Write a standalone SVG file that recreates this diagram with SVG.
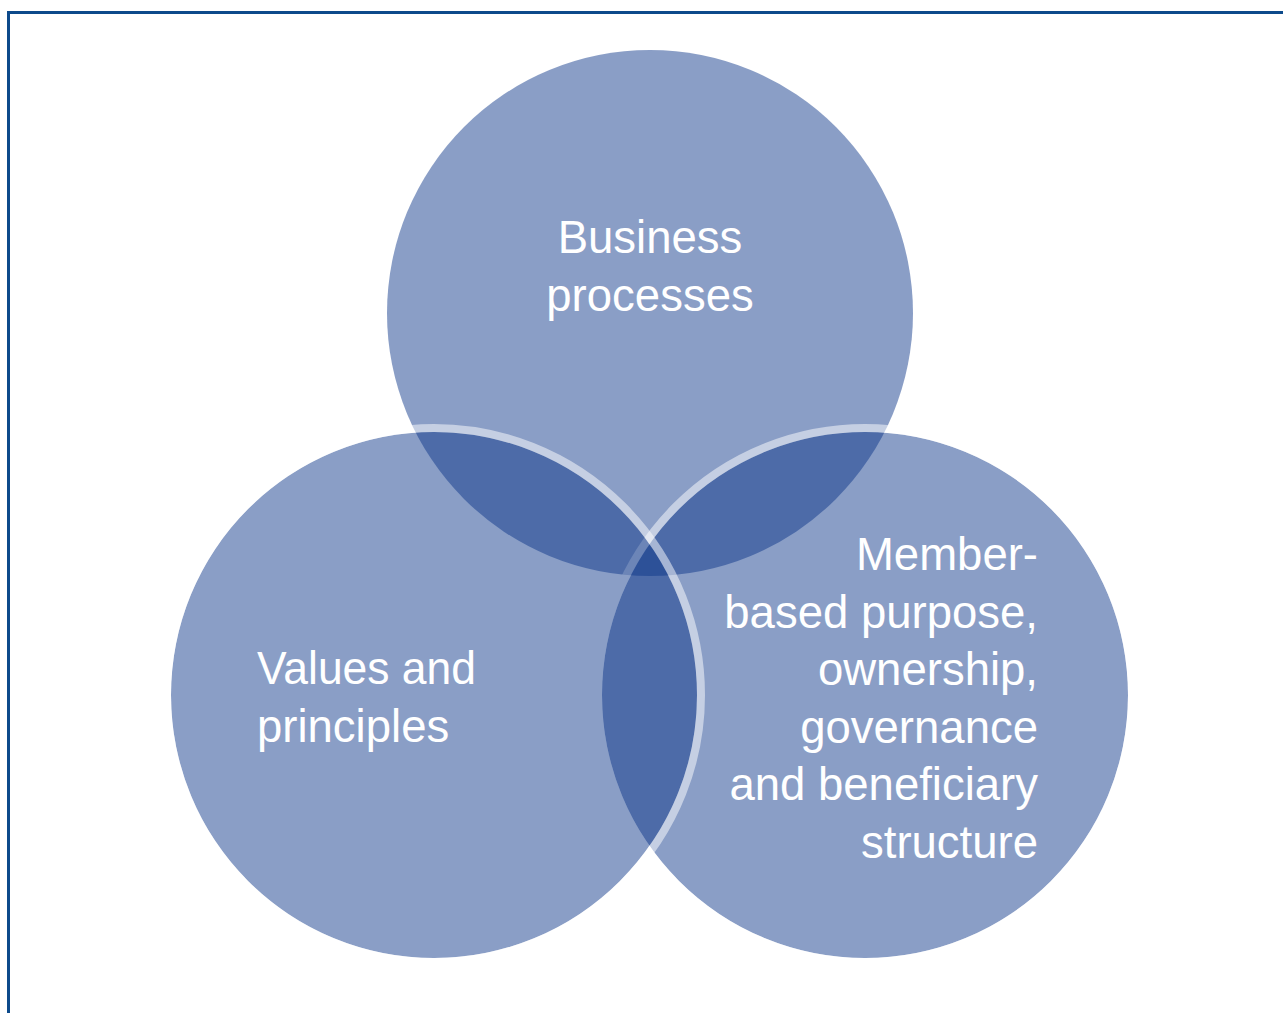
<svg xmlns="http://www.w3.org/2000/svg" width="1283" height="1013" viewBox="0 0 1283 1013">
<style>
.fill{fill:#0b3588;fill-opacity:0.48}
.band{fill:none;stroke:#ffffff;stroke-opacity:0.5;stroke-width:8}
.lbl{font-family:"Liberation Sans",Arial,Helvetica,sans-serif;font-size:45.5px;fill:#ffffff}
</style>
<rect width="1283" height="1013" fill="#ffffff"/>
<path d="M8.5,1013 V12.5 H1283" fill="none" stroke="#0d4a8b" stroke-width="3"/>
<g id="business-processes">
<circle class="fill" cx="650" cy="313" r="263"/>
<text class="lbl" x="650" y="253" text-anchor="middle">Business</text>
<text class="lbl" x="650" y="311" text-anchor="middle">processes</text>
</g>
<g id="member-based">
<circle class="fill" cx="865" cy="695" r="263"/>
<circle class="band" cx="865" cy="695" r="267"/>
</g>
<g id="values-principles">
<circle class="fill" cx="434" cy="695" r="263"/>
<circle class="band" cx="434" cy="695" r="267"/>
<text class="lbl" x="257" y="684" textLength="219" lengthAdjust="spacingAndGlyphs">Values and</text>
<text class="lbl" x="257" y="742">principles</text>
</g>
<g id="member-based-text">
<text class="lbl" text-anchor="end" x="1038" y="570">Member-</text>
<text class="lbl" text-anchor="end" x="1038" y="628">based purpose,</text>
<text class="lbl" text-anchor="end" x="1038" y="685">ownership,</text>
<text class="lbl" text-anchor="end" x="1038" y="743">governance</text>
<text class="lbl" text-anchor="end" x="1038" y="800">and beneficiary</text>
<text class="lbl" text-anchor="end" x="1038" y="858">structure</text>
</g>
<g id="connectors"></g>
</svg>
